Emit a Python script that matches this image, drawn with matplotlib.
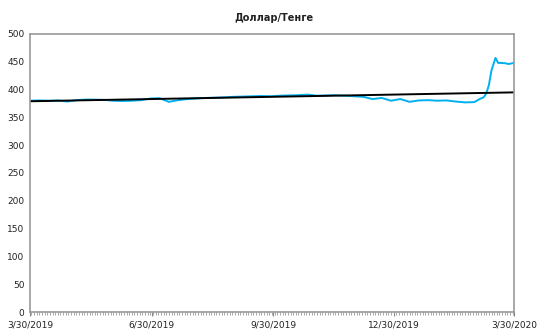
import numpy as np
import pandas as pd
import matplotlib
matplotlib.use("Agg")
import matplotlib.pyplot as plt
import matplotlib.dates as mdates

# USD/KZT rate
dates = [
    "2019-03-30", "2019-04-06", "2019-04-13", "2019-04-20", "2019-04-27",
    "2019-05-04", "2019-05-11", "2019-05-18", "2019-05-25", "2019-06-01",
    "2019-06-08", "2019-06-15", "2019-06-22", "2019-06-29", "2019-07-06",
    "2019-07-13", "2019-07-20", "2019-07-27", "2019-08-03", "2019-08-10",
    "2019-08-17", "2019-08-24", "2019-08-31", "2019-09-07", "2019-09-14",
    "2019-09-21", "2019-09-28", "2019-10-05", "2019-10-12", "2019-10-19",
    "2019-10-26", "2019-11-02", "2019-11-09", "2019-11-16", "2019-11-23",
    "2019-11-30", "2019-12-07", "2019-12-14", "2019-12-21", "2019-12-28",
    "2020-01-04", "2020-01-11", "2020-01-18", "2020-01-25", "2020-02-01",
    "2020-02-08", "2020-02-15", "2020-02-22", "2020-02-29", "2020-03-04",
    "2020-03-07", "2020-03-09", "2020-03-11", "2020-03-13", "2020-03-16",
    "2020-03-18", "2020-03-19", "2020-03-23", "2020-03-26", "2020-03-28",
    "2020-03-30",
]
rate = [
    380, 380.5, 380, 380.5, 378.5,
    381, 382, 382, 381.5, 380,
    379.5, 380, 381, 384, 384.5,
    378, 381, 383, 384, 385,
    385.5, 386, 387, 387.5, 388,
    388.5, 388, 389, 389.5, 390,
    391, 389, 389.5, 390, 389,
    388, 387, 383, 385, 380,
    383, 378, 380.5, 381, 380,
    380.5, 378.5, 377, 377.5, 383,
    386, 393, 408, 435, 457,
    448, 448, 447.5, 446, 447,
    448,
]

# linear trend line (Excel trendline), start and end values
trend_dates = ["2019-03-30", "2020-03-30"]
trend_values = [379, 395]

x_ticks = ["2019-03-30", "2019-06-30", "2019-09-30", "2019-12-30", "2020-03-30"]
y_ticks = list(range(0, 501, 50))

fig = plt.figure(figsize=(5.38, 3.31), dpi=100)
ax = fig.add_axes([0.0558, 0.0574, 0.8996, 0.8399])

ax.plot(pd.to_datetime(dates), rate, color="#00B0F0", lw=1.4)
ax.plot(pd.to_datetime(trend_dates), trend_values, color="black", lw=1.4)

ax.set_xlim(pd.Timestamp(x_ticks[0]), pd.Timestamp(x_ticks[-1]))
ax.set_ylim(0, 500)
ax.set_yticks(y_ticks)
ax.set_xticks(pd.to_datetime(x_ticks))
ax.set_xticklabels([d.strftime("%-m/%d/%Y") for d in pd.to_datetime(x_ticks)])
ax.xaxis.set_minor_locator(mdates.DayLocator(interval=2))

ax.tick_params(axis="both", labelsize=6.5, colors="#222222")
ax.tick_params(axis="y", length=0, pad=4)
ax.tick_params(axis="x", which="major", length=3, color="#888888", pad=3)
ax.tick_params(axis="x", which="minor", length=2, width=0.5, color="#888888")

for s in ax.spines.values():
    s.set_color("#999999")
    s.set_linewidth(1.2)

fig.text(0.51, 0.945, "Доллар/Тенге", ha="center", va="center",
         fontsize=7, fontweight="bold", color="#222222")

fig.savefig("out.png", dpi=100)
